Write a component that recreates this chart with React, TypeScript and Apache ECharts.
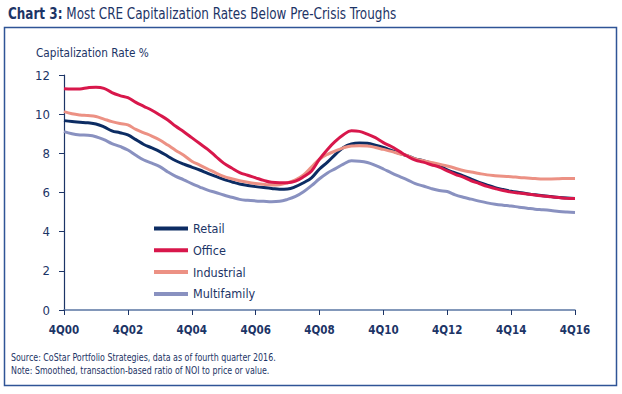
import React, { useEffect, useRef } from "react";
import * as echarts from "echarts";

const years = ["00","01","02","03","04","05","06","07","08","09","10","11","12","13","14","15","16"];
const quarters: string[] = (() => {
  const q: string[] = ["4Q00"];
  for (let y = 1; y < years.length; y++) {
    for (let k = 1; k <= 4; k++) q.push(`${k}Q${years[y]}`);
  }
  return q;
})();

const retail = [9.67,9.62,9.59,9.56,9.5,9.35,9.15,9.05,8.94,8.7,8.45,8.28,8.09,7.85,7.62,7.45,7.3,7.15,6.98,6.82,6.67,6.55,6.43,6.36,6.3,6.25,6.21,6.17,6.18,6.3,6.5,6.75,7.2,7.55,7.95,8.3,8.48,8.53,8.51,8.42,8.3,8.15,8.0,7.88,7.72,7.63,7.5,7.37,7.15,7.0,6.85,6.68,6.52,6.38,6.25,6.15,6.06,6.0,5.94,5.88,5.83,5.79,5.75,5.72,5.7];
const office = [11.3,11.28,11.29,11.35,11.38,11.32,11.1,10.95,10.84,10.6,10.4,10.2,9.96,9.7,9.38,9.1,8.8,8.5,8.2,7.85,7.5,7.25,7.02,6.88,6.75,6.62,6.52,6.5,6.5,6.58,6.8,7.1,7.7,8.2,8.62,8.95,9.15,9.12,8.98,8.8,8.55,8.35,8.1,7.85,7.65,7.55,7.42,7.3,7.1,6.93,6.78,6.6,6.46,6.31,6.2,6.1,6.02,5.97,5.92,5.87,5.82,5.78,5.74,5.7,5.69];
const industrial = [10.13,10.02,9.96,9.93,9.88,9.75,9.62,9.52,9.45,9.22,9.05,8.88,8.68,8.42,8.15,7.9,7.6,7.4,7.2,7.0,6.82,6.7,6.6,6.52,6.46,6.42,6.38,6.4,6.5,6.65,6.9,7.3,7.7,7.95,8.12,8.28,8.38,8.39,8.38,8.3,8.2,8.1,7.98,7.88,7.72,7.62,7.53,7.45,7.35,7.24,7.12,7.05,6.97,6.9,6.86,6.83,6.81,6.77,6.74,6.71,6.69,6.69,6.7,6.72,6.72];
const multifamily = [9.11,9.0,8.94,8.92,8.85,8.7,8.5,8.35,8.17,7.9,7.66,7.5,7.32,7.05,6.82,6.65,6.45,6.28,6.12,6.0,5.87,5.76,5.65,5.6,5.57,5.55,5.53,5.55,5.65,5.8,6.04,6.35,6.7,7.0,7.22,7.45,7.62,7.6,7.53,7.38,7.2,7.0,6.82,6.65,6.45,6.33,6.2,6.1,6.05,5.88,5.76,5.66,5.56,5.47,5.4,5.35,5.31,5.25,5.2,5.15,5.12,5.08,5.03,5.0,4.98];

const seriesNames = ["Retail", "Office", "Industrial", "Multifamily"];
const seriesData = [retail, office, industrial, multifamily];
const colors = ["#0c2c63", "#d8174b", "#ec9184", "#8991c0"];

const yTicks = { min: 0, max: 12, interval: 2 };

const titleBold = "Chart 3:";
const titleRest = " Most CRE Capitalization Rates Below Pre-Crisis Troughs";
const yAxisTitle = "Capitalization Rate %";
const sourceNote = "Source: CoStar Portfolio Strategies, data as of fourth quarter 2016.";
const noteText = "Note: Smoothed, transaction-based ratio of NOI to price or value.";

const FONT = "'Liberation Sans Narrow', 'DejaVu Sans Condensed', 'Roboto', sans-serif";
const NAVY = "#1c3466";

export default function App() {
  const ref = useRef<HTMLDivElement>(null);
  useEffect(() => {
    if (!ref.current) return;
    const chart = echarts.init(ref.current, undefined, { renderer: "svg" });
    chart.setOption({
      animation: false,
      backgroundColor: "#ffffff",
      textStyle: { fontFamily: FONT },
      grid: { left: 64, right: 47, top: 75, bottom: 84, containLabel: false },
      legend: {
        orient: "vertical",
        left: 154,
        top: 222,
        padding: 0,
        itemWidth: 34,
        itemHeight: 4,
        itemGap: 8.8,
        icon: "rect",
        data: seriesNames,
        textStyle: { fontFamily: FONT, fontSize: 12.5, color: NAVY },
      },
      xAxis: {
        type: "category",
        data: quarters,
        boundaryGap: false,
        axisLine: { lineStyle: { color: "#5a76a3", width: 1.5 } },
        axisTick: { show: true, interval: 7, length: 5, lineStyle: { color: NAVY } },
        axisLabel: {
          interval: 7,
          margin: 14,
          fontFamily: FONT,
          fontSize: 11.5,
          fontWeight: "bold",
          color: NAVY,
        },
        splitLine: { show: false },
      },
      yAxis: {
        type: "value",
        min: yTicks.min,
        max: yTicks.max,
        interval: yTicks.interval,
        axisLine: { show: true, lineStyle: { color: NAVY, width: 1.2 } },
        axisTick: { show: true, length: 5, lineStyle: { color: NAVY } },
        axisLabel: { margin: 14, fontFamily: FONT, fontSize: 13, color: NAVY },
        splitLine: { show: false },
      },
      series: seriesNames.map((name, i) => ({
        name,
        type: "line",
        data: seriesData[i],
        smooth: 0.4,
        showSymbol: false,
        symbol: "none",
        color: colors[i],
        lineStyle: { width: 3, color: colors[i] },
        z: i === 1 ? 3 : 2,
      })),
      graphic: [
        {
          type: "rect",
          shape: { x: 4.5, y: 27.5, width: 612, height: 358 },
          style: { fill: "none", stroke: "#2f5496", lineWidth: 1.5 },
          z: -1,
        },
        {
          type: "text",
          x: 8,
          y: 6,
          scaleX: 0.89,
          style: {
            x: 0,
            y: 0,
            text: `{b|${titleBold}}{r|${titleRest}}`,
            rich: {
              b: { fontFamily: FONT, fontSize: 15, fontWeight: "bold", fill: NAVY },
              r: { fontFamily: FONT, fontSize: 15, fill: NAVY },
            },
          },
        },
        {
          type: "text",
          x: 36,
          y: 46,
          scaleX: 0.9,
          style: { x: 0, y: 0, text: yAxisTitle, fontFamily: FONT, fontSize: 13, fill: NAVY },
        },
        {
          type: "text",
          x: 11,
          y: 352,
          scaleX: 0.88,
          style: { x: 0, y: 0, text: sourceNote, fontFamily: FONT, fontSize: 10, fill: NAVY },
        },
        {
          type: "text",
          x: 11,
          y: 365,
          scaleX: 0.88,
          style: { x: 0, y: 0, text: noteText, fontFamily: FONT, fontSize: 10, fill: NAVY },
        },
      ],
    });
    return () => chart.dispose();
  }, []);
  return <div ref={ref} style={{ width: 622, height: 394, position: "absolute", left: 0, top: 0 }} />;
}
